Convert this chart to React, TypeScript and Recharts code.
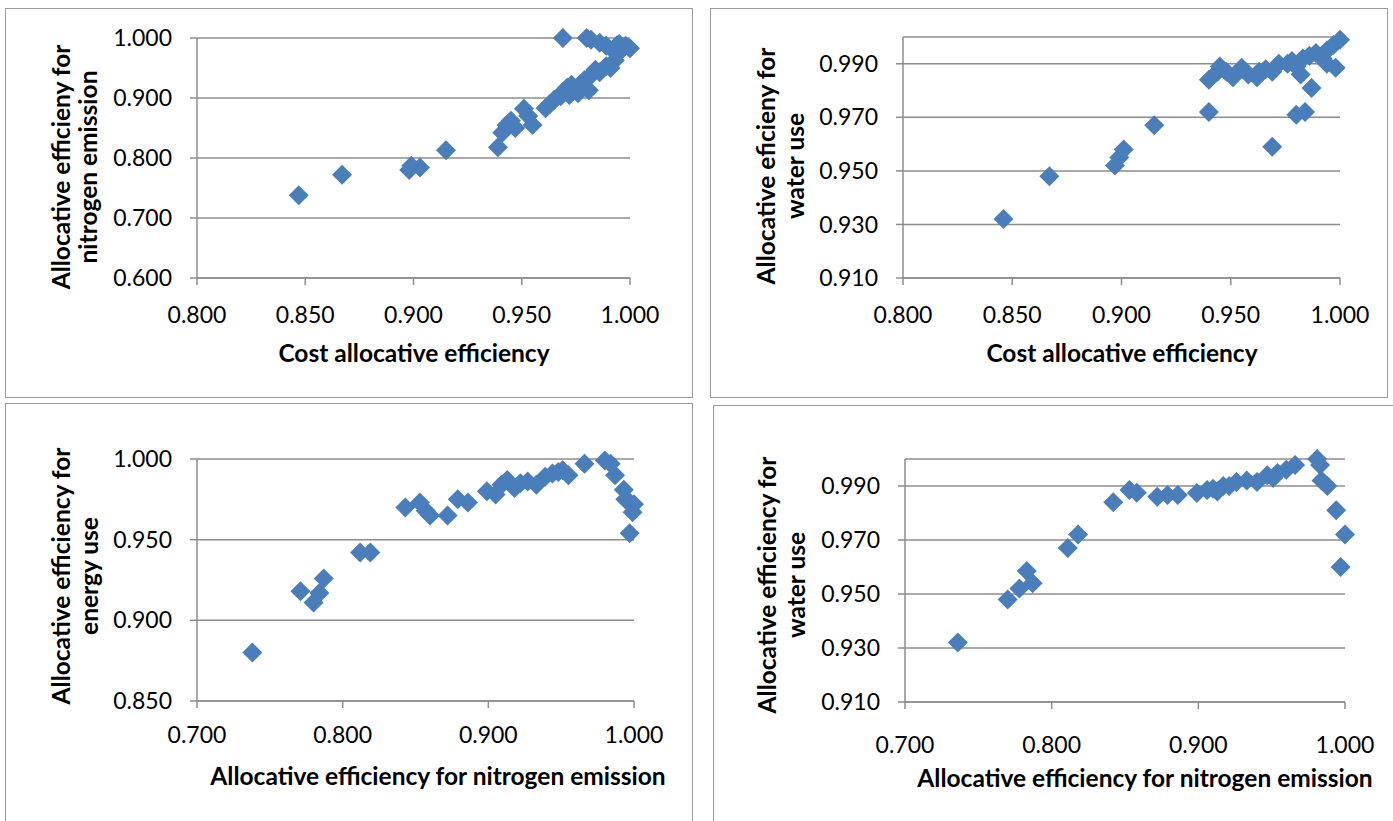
import { ScatterChart, Scatter, XAxis, YAxis, CartesianGrid } from 'recharts';

// cost allocative efficiency vs nitrogen emission
const p1x = [0.847,0.867,0.898,0.899,0.903,0.915,0.939,0.941,0.943,0.945,0.947,0.951,0.953,0.955,0.961,0.963,0.965,0.968,0.969,0.971,0.973,0.976,0.977,0.981,0.979,0.982,0.984,0.986,0.989,0.991,0.993,0.994,0.996,0.998,1.000,0.994,0.969,0.980,0.982,0.986,0.989,0.995,0.975,0.972];
const p1y = [0.738,0.772,0.780,0.787,0.784,0.813,0.818,0.842,0.855,0.862,0.850,0.882,0.870,0.855,0.883,0.890,0.897,0.903,0.910,0.917,0.922,0.908,0.923,0.913,0.930,0.938,0.947,0.943,0.953,0.950,0.963,0.973,0.980,0.987,0.983,0.988,1.000,1.000,0.997,0.992,0.987,0.990,0.913,0.905];

// cost allocative efficiency vs water use
const p2x = [0.846,0.867,0.897,0.899,0.901,0.915,0.940,0.940,0.944,0.945,0.951,0.955,0.962,0.963,0.969,0.972,0.976,0.978,0.982,0.983,0.986,0.989,0.994,0.994,0.997,1.000,0.998,0.987,0.980,0.984,0.969,0.948,0.958,0.966,0.980,0.992];
const p2y = [0.932,0.948,0.952,0.955,0.958,0.967,0.972,0.984,0.987,0.989,0.985,0.9885,0.985,0.987,0.987,0.990,0.990,0.991,0.986,0.992,0.993,0.994,0.990,0.995,0.997,0.999,0.9885,0.981,0.971,0.972,0.959,0.987,0.986,0.988,0.989,0.992];

// nitrogen emission vs energy use
const p3x = [0.738,0.771,0.780,0.784,0.787,0.812,0.819,0.843,0.853,0.857,0.860,0.872,0.879,0.886,0.899,0.905,0.909,0.913,0.918,0.927,0.933,0.939,0.944,0.951,0.955,0.966,0.980,0.984,0.987,0.993,0.997,0.999,0.997,1.000,0.994,0.922,0.948];
const p3y = [0.880,0.918,0.911,0.917,0.926,0.942,0.942,0.970,0.973,0.968,0.965,0.965,0.975,0.973,0.980,0.978,0.984,0.987,0.982,0.986,0.984,0.989,0.991,0.993,0.990,0.997,0.999,0.997,0.990,0.981,0.973,0.967,0.954,0.972,0.975,0.985,0.992];

// nitrogen emission vs water use
const p4x = [0.736,0.770,0.778,0.787,0.783,0.811,0.818,0.842,0.853,0.858,0.872,0.879,0.886,0.899,0.906,0.910,0.917,0.926,0.933,0.940,0.947,0.954,0.966,0.981,0.983,0.984,0.988,0.994,1.000,0.997,0.913,0.921,0.951,0.960];
const p4y = [0.932,0.948,0.952,0.954,0.9585,0.967,0.972,0.984,0.9885,0.9875,0.986,0.9867,0.9867,0.9874,0.9885,0.989,0.990,0.9915,0.992,0.9915,0.994,0.9948,0.9978,1.000,0.9978,0.992,0.990,0.981,0.972,0.960,0.988,0.990,0.993,0.996];

const costTicks = [0.8, 0.85, 0.9, 0.95, 1.0];
const nitroTicks = [0.7, 0.8, 0.9, 1.0];
const nitroYTicks = [0.6, 0.7, 0.8, 0.9, 1.0];
const waterTicks = [0.91, 0.93, 0.95, 0.97, 0.99];
const energyTicks = [0.85, 0.9, 0.95, 1.0];

const GRAY = '#8c8c8c';
const BLUE = '#4A7EBB';
const FONT = 'Lato, "Open Sans", sans-serif';
const TICK_SIZE = 23;
const TITLE_SIZE = 24.5;

const zip = (xs: number[], ys: number[]) => xs.map((x, i) => ({ x, y: ys[i] }));

const Diamond = (props: any) => {
  const { cx, cy } = props;
  const r = 10;
  return <polygon points={`${cx},${cy - r} ${cx + r},${cy} ${cx},${cy + r} ${cx - r},${cy}`} fill={BLUE} />;
};

type PanelProps = {
  left: number; top: number; w: number; h: number;
  data: { x: number; y: number }[];
  xDomain: number[]; xTicks: number[];
  yDomain: number[]; yTicks: number[];
  margin: { top: number; right: number };
  yWidth: number; xHeight: number; xTickMargin: number;
  xTitle: string; xTitlePos: [number, number];
  yTitle: [string, string]; yTitlePos: [number, number, number];
};

function Panel(p: PanelProps) {
  const [l1, l2, ty] = p.yTitlePos;
  return (
    <div style={{
      position: 'absolute', left: p.left, top: p.top, width: p.w, height: p.h,
      border: '1px solid #9a9a9a', background: '#fff',
    }}>
      <ScatterChart width={p.w} height={p.h}
        margin={{ top: p.margin.top, right: p.margin.right, left: 0, bottom: 0 }}>
        <CartesianGrid vertical={false} stroke={GRAY} strokeWidth={1.5} />
        <XAxis type="number" dataKey="x" domain={p.xDomain} ticks={p.xTicks}
          height={p.xHeight} tickSize={7} tickMargin={p.xTickMargin}
          axisLine={{ stroke: GRAY, strokeWidth: 1.5 }} tickLine={{ stroke: GRAY, strokeWidth: 1.5 }}
          tick={{ fill: '#000', fontSize: TICK_SIZE, fontFamily: FONT }}
          tickFormatter={(v: number) => v.toFixed(3)} />
        <YAxis type="number" dataKey="y" domain={p.yDomain} ticks={p.yTicks}
          width={p.yWidth} tickSize={7} tickMargin={18}
          axisLine={{ stroke: GRAY, strokeWidth: 1.5 }} tickLine={{ stroke: GRAY, strokeWidth: 1.5 }}
          tick={{ fill: '#000', fontSize: TICK_SIZE, fontFamily: FONT }}
          tickFormatter={(v: number) => v.toFixed(3)} />
        <Scatter data={p.data} shape={<Diamond />} isAnimationActive={false} />
        <text x={p.xTitlePos[0]} y={p.xTitlePos[1]} textAnchor="middle" dominantBaseline="central"
          fontFamily={FONT} fontWeight="bold" fontSize={TITLE_SIZE} fill="#000">{p.xTitle}</text>
        <text transform={`translate(${l1},${ty}) rotate(-90)`} textAnchor="middle" dominantBaseline="central"
          fontFamily={FONT} fontWeight="bold" fontSize={TITLE_SIZE} fill="#000">{p.yTitle[0]}</text>
        <text transform={`translate(${l2},${ty}) rotate(-90)`} textAnchor="middle" dominantBaseline="central"
          fontFamily={FONT} fontWeight="bold" fontSize={TITLE_SIZE} fill="#000">{p.yTitle[1]}</text>
      </ScatterChart>
    </div>
  );
}

export default function App() {
  return (
    <div style={{ position: 'absolute', left: 0, top: 0, width: 1393, height: 821, overflow: 'hidden', background: '#fff' }}>
      <Panel left={5} top={8} w={686} h={388} data={zip(p1x, p1y)}
        xDomain={[0.8, 1.0]} xTicks={costTicks} yDomain={[0.6, 1.0]} yTicks={nitroYTicks}
        margin={{ top: 29, right: 62 }} yWidth={191} xHeight={119} xTickMargin={22}
        xTitle="Cost allocative efficiency" xTitlePos={[408, 343]}
        yTitle={['Allocative efficieny for', 'nitrogen emission']} yTitlePos={[54, 81, 158]} />
      <Panel left={710} top={8} w={676} h={388} data={zip(p2x, p2y)}
        xDomain={[0.8, 1.0]} xTicks={costTicks} yDomain={[0.91, 1.0]} yTicks={waterTicks}
        margin={{ top: 28, right: 47 }} yWidth={192} xHeight={119} xTickMargin={22}
        xTitle="Cost allocative efficiency" xTitlePos={[411, 343]}
        yTitle={['Allocative eficieny for', 'water use']} yTitlePos={[54, 83, 157]} />
      <Panel left={5} top={403} w={686} h={430} data={zip(p3x, p3y)}
        xDomain={[0.7, 1.0]} xTicks={nitroTicks} yDomain={[0.85, 1.0]} yTicks={energyTicks}
        margin={{ top: 55, right: 58 }} yWidth={191} xHeight={133} xTickMargin={19}
        xTitle="Allocative efficiency for nitrogen emission" xTitlePos={[432, 371]}
        yTitle={['Allocative efficiency for', 'energy use']} yTitlePos={[54, 82, 172]} />
      <Panel left={713} top={405} w={688} h={430} data={zip(p4x, p4y)}
        xDomain={[0.7, 1.0]} xTicks={nitroTicks} yDomain={[0.91, 1.0]} yTicks={waterTicks}
        margin={{ top: 53, right: 57 }} yWidth={191} xHeight={134} xTickMargin={28}
        xTitle="Allocative efficiency for nitrogen emission" xTitlePos={[431, 371]}
        yTitle={['Allocative efficiency for', 'water use']} yTitlePos={[52, 81, 179]} />
    </div>
  );
}
